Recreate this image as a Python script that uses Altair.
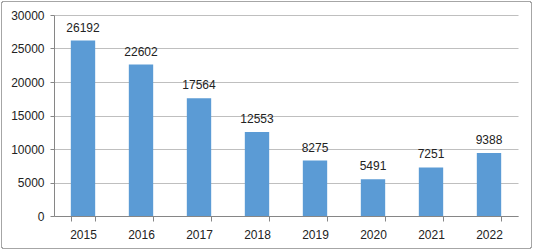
import altair as alt
import pandas as pd

years = ["2015", "2016", "2017", "2018", "2019", "2020", "2021", "2022"]
values = [26192, 22602, 17564, 12553, 8275, 5491, 7251, 9388]
y_ticks = [0, 5000, 10000, 15000, 20000, 25000, 30000]

df = pd.DataFrame({"year": years, "value": values})

W, H = 464, 201
PL, PT, PR, PB = 54, 15, 16, 35

base = alt.Chart(df)

x_enc = alt.X(
    "year:N",
    sort=years,
    title=None,
    scale=alt.Scale(paddingInner=0.58, paddingOuter=0.29),
    axis=alt.Axis(
        labelAngle=0,
        labelFontSize=12,
        labelColor="#222222",
        labelFont="Liberation Sans",
        labelPadding=8,
        domainColor="#868686",
        tickColor="#868686",
        tickSize=5,
        tickBand="extent",
        grid=False,
    ),
)

bars = base.mark_bar(color="#5B9BD5").encode(
    x=x_enc,
    y=alt.Y(
        "value:Q",
        title=None,
        scale=alt.Scale(domain=[0, 30000], nice=False),
        axis=alt.Axis(
            values=y_ticks,
            tickCount=7,
            labelOverlap=False,
            format="d",
            labelFontSize=12,
            labelColor="#222222",
            labelFont="Liberation Sans",
            labelPadding=6,
            domainColor="#868686",
            tickColor="#868686",
            tickSize=4,
            gridColor="#BFBFBF",
        ),
    ),
)

labels = base.mark_text(
    dy=-13, fontSize=12, font="Liberation Sans", color="#222222"
).encode(
    x=alt.X("year:N", sort=years),
    y="value:Q",
    text=alt.Text("value:Q", format="d"),
)

border = base.mark_rect(
    fill=None, stroke="#A6A6A6", strokeWidth=1, cornerRadius=2
).encode(
    x=alt.value(-PL + 1.5),
    x2=alt.value(W + PR - 2.5),
    y=alt.value(-PT + 1.5),
    y2=alt.value(H + PB - 2.5),
)

chart = (
    alt.layer(bars, labels, border)
    .properties(
        width=W,
        height=H,
        padding={"left": PL, "top": PT, "right": PR, "bottom": PB},
        autosize=alt.AutoSizeParams(type="none"),
        background="white",
    )
    .configure_view(stroke=None)
)

chart.save("out.html", embed_options={"renderer": "svg", "actions": False})
